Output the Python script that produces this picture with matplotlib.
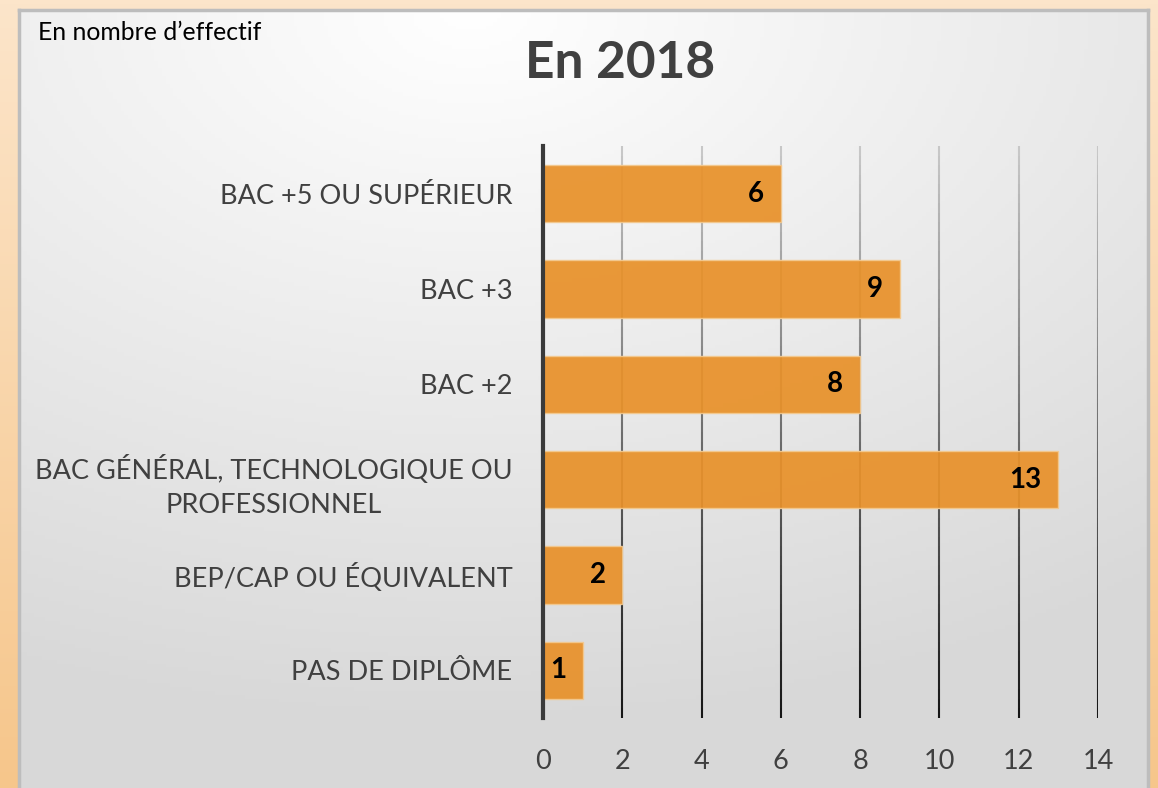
import matplotlib
matplotlib.use("Agg")
import matplotlib.pyplot as plt
import numpy as np
from matplotlib.collections import LineCollection
from matplotlib.colors import to_rgb

plt.rcParams['font.family'] = ['Lato', 'DejaVu Sans']

# data (bottom to top)
categories = ["PAS DE DIPLÔME", "BEP/CAP OU ÉQUIVALENT",
              "BAC GÉNÉRAL, TECHNOLOGIQUE OU\nPROFESSIONNEL",
              "BAC +2", "BAC +3", "BAC +5 OU SUPÉRIEUR"]
values = [1, 2, 13, 8, 9, 6]
xticks = [0, 2, 4, 6, 8, 10, 12, 14]

W, H = 1158, 788
fig = plt.figure(figsize=(W / 100, H / 100), dpi=100)

# peach outer background
bg = fig.add_axes([0, 0, 1, 1], zorder=-10)
top = np.array(to_rgb("#fce5ca"))
bot = np.array(to_rgb("#f6c68b"))
t = np.linspace(0, 1, 200)[:, None]
grad = top * (1 - t) + bot * t
bg.imshow(grad[:, None, :].repeat(2, axis=1), aspect='auto', extent=[0, 1, 0, 1])
bg.set_axis_off()

# grey inner panel
px0, px1, py0 = 19, 1148, 10
panel = fig.add_axes([px0 / W, 0, (px1 - px0) / W, (H - py0) / H], zorder=-9)
yy, xx = np.mgrid[0:1:200j, 0:1:300j]
d = np.sqrt(((xx - 0.4) * 1.0) ** 2 + (yy * 1.1) ** 2)
shade = 1.0 - 0.15 * np.clip(d, 0, 1)
img = np.stack([shade] * 3, axis=-1)
panel.imshow(img, aspect='auto', extent=[0, 1, 0, 1], origin='upper')
panel.set_xticks([])
panel.set_yticks([])
for s in ['left', 'top', 'right']:
    panel.spines[s].set_color('#bdbdbd')
    panel.spines[s].set_linewidth(2.5)
panel.spines['bottom'].set_visible(False)

# chart
ax = fig.add_axes([543 / W, 1 - 718 / H, (1098 - 543) / W, (718 - 146) / H])
ax.set_facecolor('none')
ypos = np.arange(len(categories))
ax.set_xlim(0, 14)
ax.set_ylim(-0.5, len(categories) - 0.5)

# gradient gridlines
n = 60
ys = np.linspace(0, 1, n + 1)
dark = np.array(to_rgb("#151515"))
light = np.array(to_rgb("#c8c8c8"))
for xv in xticks[1:]:
    segs = [[(xv, ys[i]), (xv, ys[i + 1])] for i in range(n)]
    cols = [dark * (1 - (ys[i] + ys[i + 1]) / 2) + light * (ys[i] + ys[i + 1]) / 2 for i in range(n)]
    lc = LineCollection(segs, colors=cols, linewidths=1.5,
                        transform=ax.get_xaxis_transform(), zorder=1)
    ax.add_collection(lc)

bars = ax.barh(ypos, values, height=0.6, color='#e8912a', alpha=0.93,
               edgecolor='#f3c98f', linewidth=1, zorder=2)
for yv, v in zip(ypos, values):
    ax.annotate(str(v), (v, yv), xytext=(-12, 0), textcoords='offset points',
                ha='right', va='center', fontsize=20, fontweight='bold', color='black', zorder=3)

ax.set_xticks(xticks)
ax.set_xticklabels([str(x) for x in xticks])
ax.set_yticks(ypos)
ax.set_yticklabels(categories, multialignment='center', linespacing=1.45)
ax.tick_params(axis='both', length=0, labelsize=19.5, labelcolor='#404040')
ax.tick_params(axis='y', pad=22)
ax.tick_params(axis='x', pad=22)
for s in ['top', 'right', 'bottom']:
    ax.spines[s].set_visible(False)
ax.spines['left'].set_color('#3a3a3a')
ax.spines['left'].set_linewidth(3)
ax.spines['left'].set_zorder(4)

fig.text(620 / W, 1 - 64 / H, "En 2018", ha='center', va='center',
         fontsize=37, fontweight='bold', color='#404040')
fig.text(38 / W, 1 - 33 / H, "En nombre d\u2019effectif", ha='left', va='center',
         fontsize=17.8, color='black')

fig.savefig("out.png", dpi=100)
